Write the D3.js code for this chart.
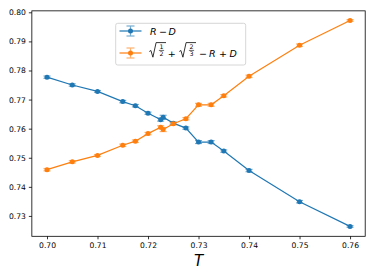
<!DOCTYPE html>
<html><head><meta charset="utf-8">
<script src="https://cdn.jsdelivr.net/npm/d3@7"></script>
<style>
body{margin:0;background:#fff;}
svg{display:block;font-family:"DejaVu Sans",sans-serif;}
</style></head>
<body>
<svg id="c" width="374" height="280"></svg>
<script>
const T = [0.700,0.705,0.710,0.715,0.7175,0.720,0.7225,0.723,0.725,0.7275,0.730,0.7325,0.735,0.740,0.750,0.760];
const seriesRD = [0.7777,0.7750,0.7728,0.7693,0.7679,0.7653,0.7631,0.7639,0.7619,0.7602,0.7554,0.7554,0.7523,0.7456,0.7349,0.7264];
const seriesSum = [0.7459,0.7486,0.7508,0.7543,0.7557,0.7583,0.7605,0.7597,0.7617,0.7634,0.7682,0.7682,0.7713,0.7780,0.7887,0.7972];
const errRD = [0.0004,0.0004,0.0003,0.0004,0.0004,0.0004,0.0005,0.0007,0.0004,0.0004,0.0005,0.0005,0.0004,0.0004,0.0004,0.0003];
const errSum = [0.0004,0.0004,0.0003,0.0004,0.0004,0.0004,0.0005,0.0007,0.0004,0.0004,0.0005,0.0005,0.0004,0.0004,0.0004,0.0003];
const xTicks = [0.70,0.71,0.72,0.73,0.74,0.75,0.76];
const yTicks = [0.73,0.74,0.75,0.76,0.77,0.78,0.79,0.80];
const colors = ["#1f77b4","#ff7f0e"];

const svg = d3.select("#c");
const L=31.85,R=365.2,Tp=10.85,B=236.3;
const x = d3.scaleLinear().domain([0.697,0.763]).range([L,R]);
const y = d3.scaleLinear().domain([0.723,0.8005]).range([B,Tp]);

const xAxis = svg.append("g").attr("transform",`translate(0,${B})`)
  .call(d3.axisBottom(x).tickValues(xTicks).tickFormat(d3.format(".2f")).tickSize(3).tickPadding(3));
const yAxis = svg.append("g").attr("transform",`translate(${L},0)`)
  .call(d3.axisLeft(y).tickValues(yTicks).tickFormat(d3.format(".2f")).tickSize(3).tickPadding(3));
[xAxis,yAxis].forEach(a=>{
  a.select(".domain").remove();
  a.selectAll("text").attr("font-family","DejaVu Sans").attr("font-size","7.6px").attr("fill","#000");
  a.selectAll("line").attr("stroke","#000").attr("stroke-width",0.8);
});
xAxis.selectAll("text").attr("dy","0.71em");

svg.append("rect").attr("x",L).attr("y",Tp).attr("width",R-L).attr("height",B-Tp)
  .attr("fill","none").attr("stroke","#000").attr("stroke-width",0.8);

svg.append("text").attr("x",(L+R)/2).attr("y",266).attr("text-anchor","middle")
  .attr("font-style","italic").attr("font-size","15px").text("T");

function drawSeries(vals, errs, col){
  const g = svg.append("g");
  const line = d3.line().x((d,i)=>x(T[i])).y(d=>y(d));
  g.append("path").datum(vals).attr("d",line).attr("fill","none").attr("stroke",col).attr("stroke-width",1.2);
  const eb = g.append("g").attr("stroke",col).attr("stroke-width",1.2).attr("opacity",0.6);
  vals.forEach((v,i)=>{
    const cx=x(T[i]), y1=y(v-errs[i]), y2=y(v+errs[i]);
    eb.append("line").attr("x1",cx).attr("x2",cx).attr("y1",y1).attr("y2",y2);
    eb.append("line").attr("x1",cx-3.5).attr("x2",cx+3.5).attr("y1",y1).attr("y2",y1);
    eb.append("line").attr("x1",cx-3.5).attr("x2",cx+3.5).attr("y1",y2).attr("y2",y2);
  });
  g.selectAll("circle").data(vals).join("circle")
    .attr("cx",(d,i)=>x(T[i])).attr("cy",d=>y(d)).attr("r",2.5).attr("fill",col);
}
drawSeries(seriesRD, errRD, colors[0]);
drawSeries(seriesSum, errSum, colors[1]);

// legend
const lg = svg.append("g");
lg.append("rect").attr("x",115.7).attr("y",23.3).attr("width",130).attr("height",41.7).attr("rx",2)
  .attr("fill","#fff").attr("fill-opacity",0.8).attr("stroke","#ccc").attr("stroke-width",0.8);
function handle(cy,col){
  lg.append("line").attr("x1",119.5).attr("x2",141.5).attr("y1",cy).attr("y2",cy).attr("stroke",col).attr("stroke-width",1.2);
  const e = lg.append("g").attr("stroke",col).attr("stroke-width",1.2).attr("opacity",0.6);
  e.append("line").attr("x1",130.5).attr("x2",130.5).attr("y1",cy-5).attr("y2",cy+5);
  e.append("line").attr("x1",126.5).attr("x2",134.5).attr("y1",cy-5).attr("y2",cy-5);
  e.append("line").attr("x1",126.5).attr("x2",134.5).attr("y1",cy+5).attr("y2",cy+5);
  lg.append("circle").attr("cx",130.5).attr("cy",cy).attr("r",2.5).attr("fill",col);
}
handle(31,colors[0]);
handle(53,colors[1]);
const fs="9.5px";
lg.append("text").attr("x",150).attr("y",34.5).attr("font-size",fs).attr("font-style","italic").text("R");
lg.append("text").attr("x",159).attr("y",34.5).attr("font-size",fs).text("\u2212");
lg.append("text").attr("x",168.5).attr("y",34.5).attr("font-size",fs).attr("font-style","italic").text("D");

function radical(x0, x1){
  lg.append("path").attr("d",`M${x0},51.5 L${x0+1.6},50.5 L${x0+3.6},57.2 L${x0+6.8},42.6 L${x1},42.6`)
    .attr("fill","none").attr("stroke","#000").attr("stroke-width",0.8);
}
function frac(cx, n, d){
  lg.append("text").attr("x",cx).attr("y",49.0).attr("text-anchor","middle").attr("font-size","6.3px").text(n);
  lg.append("line").attr("x1",cx-2.6).attr("x2",cx+2.6).attr("y1",50.4).attr("y2",50.4).attr("stroke","#000").attr("stroke-width",0.6);
  lg.append("text").attr("x",cx).attr("y",56.4).attr("text-anchor","middle").attr("font-size","6.3px").text(d);
}
radical(149.3,166);
frac(161.5,"1","2");
radical(179.3,196);
frac(191.5,"2","3");
lg.append("text").attr("x",167.8).attr("y",56.5).attr("font-size",fs).text("+");
lg.append("text").attr("x",199).attr("y",56.5).attr("font-size",fs).text("\u2212");
lg.append("text").attr("x",209).attr("y",56.5).attr("font-size",fs).attr("font-style","italic").text("R");
lg.append("text").attr("x",219).attr("y",56.5).attr("font-size",fs).text("+");
lg.append("text").attr("x",229.5).attr("y",56.5).attr("font-size",fs).attr("font-style","italic").text("D");
</script>
</body></html>
